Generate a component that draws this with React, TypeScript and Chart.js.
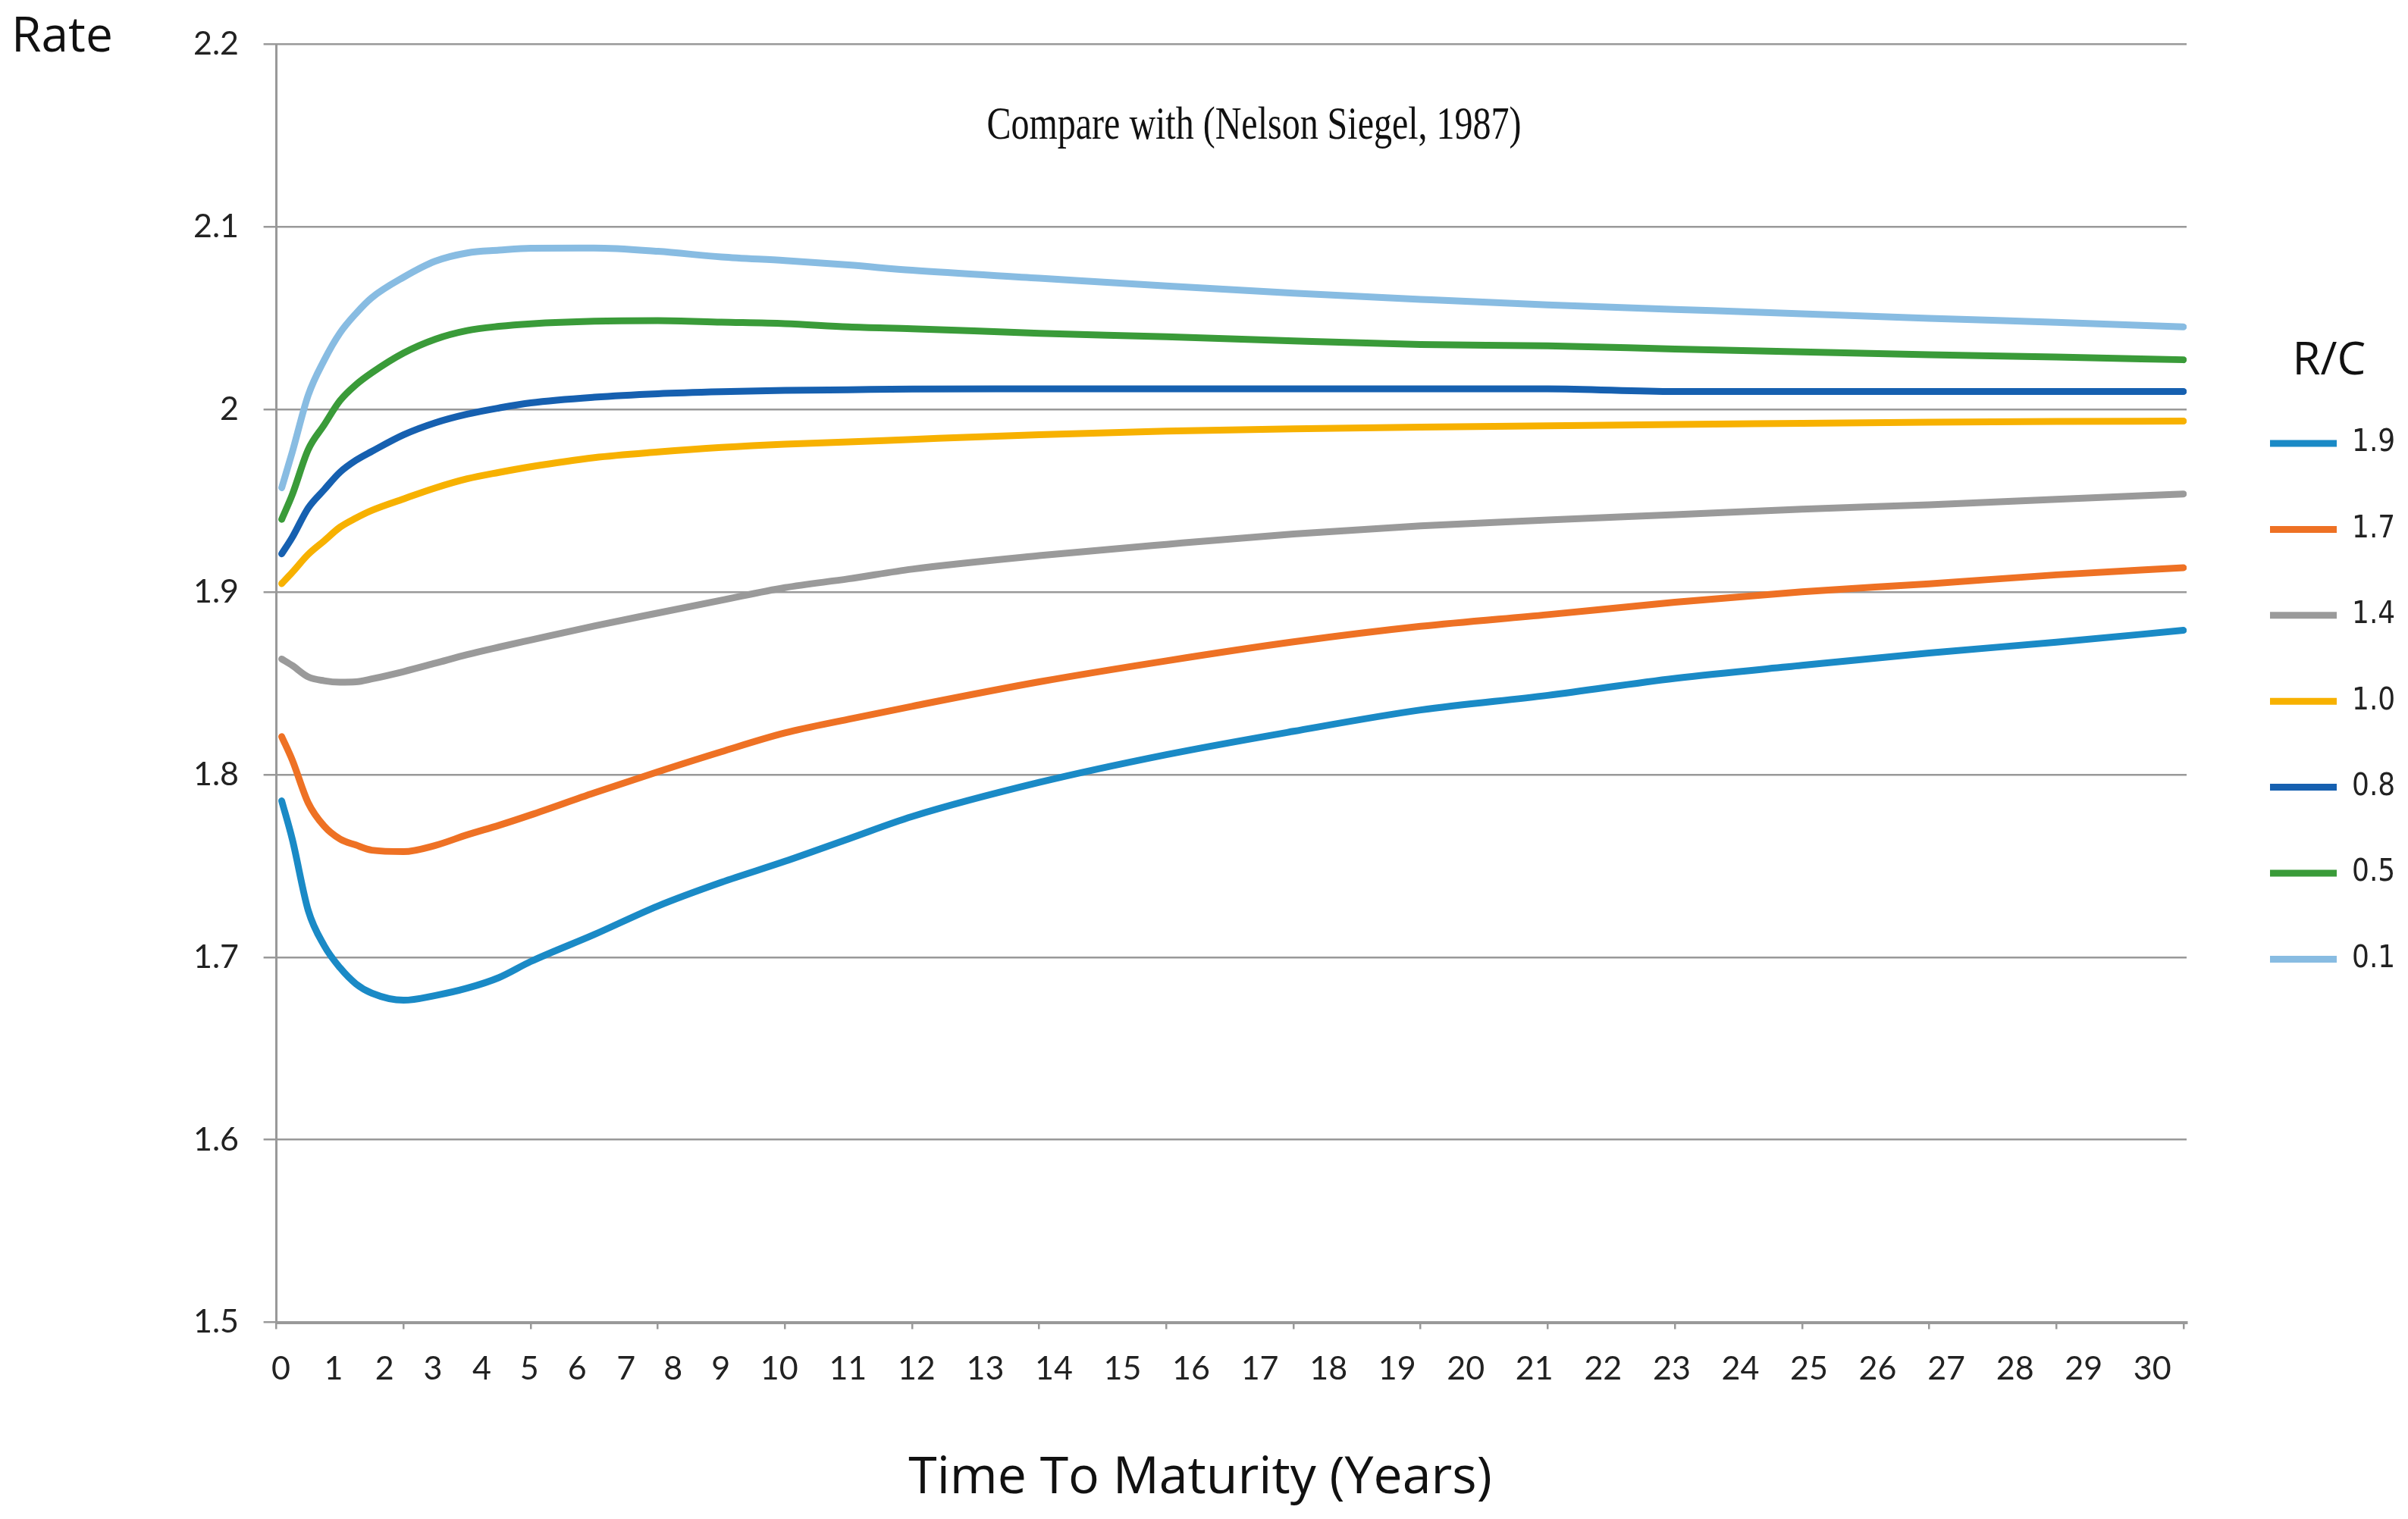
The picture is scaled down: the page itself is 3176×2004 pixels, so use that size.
import { useEffect, useRef } from "react"
import { Chart, registerables, type ChartConfiguration, type Plugin } from "chart.js"

Chart.register(...registerables)

// Time to maturity in years
const maturities = [0.083, 0.25, 0.5, 0.75, 1, 1.25, 1.5, 2, 2.5, 3, 3.5, 4, 5, 6, 7, 8, 9, 10, 12, 14, 16, 18, 20, 22, 24, 26, 28, 30]

// Rate for each R/C ratio
const rc19 = [1.7856, 1.7645, 1.7256, 1.7064, 1.6942, 1.6854, 1.6803, 1.6764, 1.679, 1.683, 1.6888, 1.6976, 1.7124, 1.728, 1.741, 1.7525, 1.7648, 1.777, 1.7957, 1.8109, 1.8237, 1.8354, 1.8434, 1.8527, 1.8598, 1.8666, 1.8725, 1.879]
const rc17 = [1.8208, 1.8079, 1.7845, 1.7718, 1.7647, 1.7614, 1.7586, 1.7578, 1.7612, 1.767, 1.7722, 1.7779, 1.79, 1.8015, 1.8125, 1.8228, 1.8303, 1.8374, 1.8508, 1.8623, 1.8727, 1.8812, 1.8876, 1.8944, 1.9001, 1.9045, 1.9094, 1.9133]
const rc14 = [1.8633, 1.8597, 1.8535, 1.8514, 1.8506, 1.8508, 1.8524, 1.8564, 1.861, 1.8657, 1.8698, 1.8737, 1.8814, 1.8885, 1.8955, 1.9024, 1.9072, 1.9125, 1.9199, 1.9261, 1.9318, 1.9362, 1.9394, 1.9424, 1.9454, 1.9478, 1.9508, 1.9537]
const rc10 = [1.9046, 1.9108, 1.9206, 1.928, 1.9355, 1.9405, 1.9447, 1.951, 1.957, 1.962, 1.9655, 1.9686, 1.9736, 1.9767, 1.9792, 1.981, 1.9822, 1.9836, 1.9862, 1.9881, 1.9894, 1.9903, 1.991, 1.9918, 1.9924, 1.993, 1.9934, 1.9936]
const rc08 = [1.9209, 1.93, 1.946, 1.956, 1.9656, 1.9721, 1.977, 1.9861, 1.9927, 1.9974, 2.0008, 2.0036, 2.0067, 2.0086, 2.0097, 2.0104, 2.0108, 2.0112, 2.0113, 2.0113, 2.0113, 2.0113, 2.0113, 2.0098, 2.0098, 2.0098, 2.0098, 2.0098]
const rc05 = [1.9398, 1.9534, 1.978, 1.9915, 2.0048, 2.0135, 2.0201, 2.0309, 2.0385, 2.0432, 2.0455, 2.0469, 2.0483, 2.0486, 2.0478, 2.047, 2.0452, 2.0442, 2.0417, 2.0398, 2.0375, 2.0356, 2.0348, 2.0331, 2.0315, 2.03, 2.0287, 2.0272]
const rc01 = [1.9571, 1.9767, 2.0078, 2.0269, 2.0419, 2.0525, 2.0612, 2.0724, 2.0812, 2.0857, 2.0872, 2.0883, 2.0884, 2.0866, 2.0835, 2.0815, 2.0791, 2.0762, 2.0719, 2.0676, 2.0637, 2.0603, 2.0572, 2.0548, 2.0524, 2.0499, 2.0477, 2.0452]

const seriesLabels = ["1.9", "1.7", "1.4", "1.0", "0.8", "0.5", "0.1"]
const seriesValues = [rc19, rc17, rc14, rc10, rc08, rc05, rc01]
const seriesColors = ["#1a8ac6", "#ee7124", "#9a9a9a", "#f7b100", "#1660b0", "#3a9b39", "#88bce2"]

// The year numbers under the axis are a typed strip in the original,
// so they do not sit on the tick marks; these are where they fall.
const xTickLabels = ["0", "1", "2", "3", "4", "5", "6", "7", "8", "9", "10", "11", "12", "13", "14", "15", "16", "17", "18", "19", "20", "21", "22", "23", "24", "25", "26", "27", "28", "29", "30"]
const xTickAt = [0.07, 0.9, 1.7, 2.46, 3.23, 3.98, 4.73, 5.5, 6.24, 6.99, 7.91, 8.99, 10.07, 11.15, 12.23, 13.31, 14.39, 15.47, 16.55, 17.63, 18.71, 19.79, 20.87, 21.95, 23.03, 24.11, 25.19, 26.27, 27.35, 28.43, 29.51]

const GRID = "#999999"
const TEXT = "#222222"

const WIDTH = 3176
const HEIGHT = 2004
const PLOT_RIGHT = 2884
const LEGEND_FONT = '"DejaVu Sans Condensed", "DejaVu Sans"'
const LEGEND_SIZE = 40
const LEGEND_PAD = 13.4
const LEGEND_LINE = 88
const LEGEND_LEFT = 2994 - LEGEND_PAD
const GAP = LEGEND_LEFT - PLOT_RIGHT

// free text: axis captions and the note inside the plot
const captions: Plugin<"line"> = {
  id: "captions",
  afterDraw(chart) {
    const { ctx } = chart
    ctx.save()
    ctx.fillStyle = "#111"
    ctx.textBaseline = "alphabetic"

    ctx.textAlign = "left"
    ctx.font = '64px "Open Sans"'
    ctx.fillText("Rate", 15, 68)

    ctx.textAlign = "center"
    ctx.font = '68px "Open Sans"'
    ctx.fillText("Time To Maturity (Years)", 1583, 1970)

    // narrow serif note
    ctx.translate(1654, 183)
    ctx.scale(0.774, 1)
    ctx.font = '62px "Liberation Serif"'
    ctx.fillText("Compare with (Nelson Siegel, 1987)", 0, 0)
    ctx.restore()
  },
}

export default function App() {
  const canvasRef = useRef<HTMLCanvasElement>(null)

  useEffect(() => {
    if (!canvasRef.current) return

    Chart.defaults.font.family = "Lato"

    // legend width, so the plot keeps its right edge
    const m = document.createElement("canvas").getContext("2d")
    let textW = 60
    if (m) {
      m.font = `${LEGEND_SIZE}px ${LEGEND_FONT}`
      textW = Math.max(...seriesLabels.map((s) => m.measureText(s).width))
    }
    const legendW = LEGEND_PAD + LEGEND_LINE + LEGEND_SIZE / 2 + textW + 4
    const padRight = WIDTH - PLOT_RIGHT - GAP - legendW

    const config: ChartConfiguration<"line"> = {
      type: "line",
      data: {
        datasets: seriesLabels.map((label, i) => ({
          label,
          data: maturities.map((x, j) => ({ x, y: seriesValues[i][j] })),
          borderColor: seriesColors[i],
          backgroundColor: seriesColors[i],
          borderWidth: 9,
          borderCapStyle: "round",
          borderJoinStyle: "round",
          pointRadius: 0,
          cubicInterpolationMode: "monotone",
          fill: false,
        })),
      },
      options: {
        animation: false,
        responsive: true,
        maintainAspectRatio: false,
        devicePixelRatio: 1,
        layout: { padding: { top: 57.4, right: padRight, bottom: 0, left: 0 } },
        plugins: {
          legend: {
            position: "right",
            align: "start",
            maxWidth: legendW,
            labels: {
              usePointStyle: true,
              pointStyle: "line",
              pointStyleWidth: LEGEND_LINE,
              padding: LEGEND_PAD,
              color: TEXT,
              // row pitch comes from the line height (one-line arrays)
              font: { family: LEGEND_FONT, size: LEGEND_SIZE, lineHeight: 2.5 },
              generateLabels: (chart) =>
                Chart.defaults.plugins.legend.labels
                  .generateLabels(chart)
                  .map((item) => ({ ...item, text: [item.text] as unknown as string })),
            },
            title: {
              display: true,
              text: "R/C",
              position: "center",
              color: "#111",
              font: { family: '"Open Sans"', size: 60 },
              padding: { top: 389.6, bottom: 32.6 },
            },
          },
          tooltip: { enabled: false },
        },
        scales: {
          // tick marks every two years along the bottom line
          x: {
            type: "linear",
            min: 0,
            max: 30.05,
            afterFit: (s) => {
              s.height = 9
            },
            ticks: { display: false, stepSize: 2, includeBounds: false },
            grid: { drawOnChartArea: false, drawTicks: true, tickLength: 9, color: GRID, lineWidth: 2.5 },
            border: { color: GRID, width: 4 },
          },
          // the year numbers
          xLabels: {
            type: "linear",
            position: "bottom",
            weight: 1,
            min: 0,
            max: 30.05,
            afterBuildTicks: (s) => {
              s.ticks = xTickAt.map((value) => ({ value }))
            },
            afterFit: (s) => {
              s.height = 250.5
            },
            ticks: {
              autoSkip: false,
              maxRotation: 0,
              minRotation: 0,
              padding: 26.7,
              color: TEXT,
              font: { size: 43 },
              callback: (_v, i) => xTickLabels[i],
            },
            grid: { display: false, drawTicks: false },
            border: { display: false },
          },
          y: {
            type: "linear",
            min: 1.5,
            max: 2.2,
            afterFit: (s) => {
              s.width = 364.6
            },
            ticks: {
              stepSize: 0.1,
              padding: 32.6,
              color: TEXT,
              font: { size: 43 },
              callback: (v) => String(Number(Number(v).toFixed(1))),
            },
            grid: { color: GRID, lineWidth: 2.5, tickLength: 17 },
            border: { color: GRID, width: 3 },
          },
          // empty strip between the plot and the legend
          gap: {
            type: "linear",
            position: "right",
            afterFit: (s) => {
              s.width = GAP
            },
            ticks: { display: false },
            grid: { display: false, drawTicks: false },
            border: { display: false },
          },
        },
      },
      plugins: [captions],
    }

    const chart = new Chart(canvasRef.current, config)

    return () => {
      chart.destroy()
    }
  }, [])

  return (
    <div style={{ position: "fixed", left: 0, top: 0, width: WIDTH, height: HEIGHT, background: "#fff" }}>
      <canvas ref={canvasRef} />
    </div>
  )
}
